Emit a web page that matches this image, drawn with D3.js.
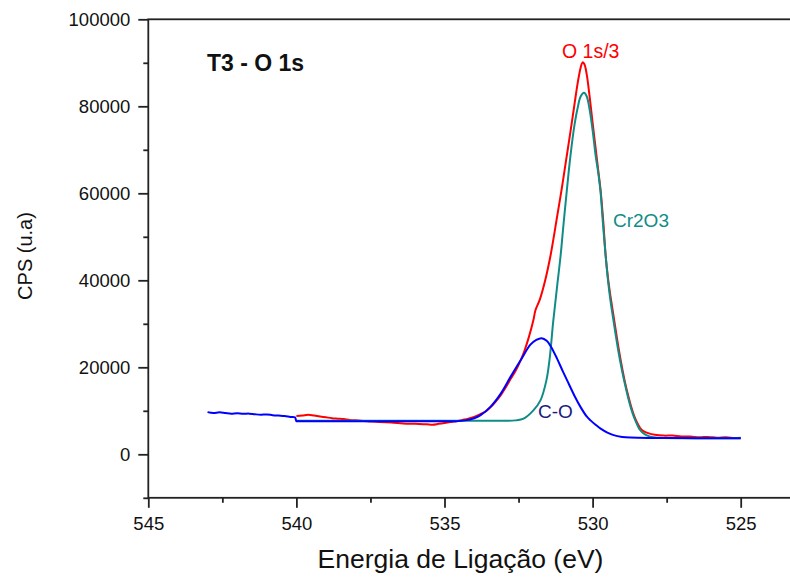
<!DOCTYPE html>
<html>
<head>
<meta charset="utf-8">
<script src="https://cdn.jsdelivr.net/npm/d3@7"></script>
<style>
  body { margin: 0; background: #fff; }
  svg { display: block; font-family: "Liberation Sans", Arial, sans-serif; }
  .axis path, .axis line { stroke: #222; stroke-width: 1.8; }
  .axis text { fill: #111; font-size: 18.5px; font-family: "Liberation Sans", Arial, sans-serif; }
</style>
</head>
<body>
<script>
// O 1s envelope (measured / 3), C-O component, Cr2O3 component : [binding energy eV, CPS]
var envelopeO1s = [
  [540.0, 8800], [539.8, 8900], [539.6, 9100], [539.4, 8900], [539.2, 8700], [539.0, 8500],
  [538.8, 8300], [538.6, 8200], [538.4, 8100], [538.2, 7900], [538.0, 7800], [537.6, 7600],
  [537.2, 7400], [536.8, 7300], [536.4, 7100], [536.0, 7000], [535.6, 6900], [535.4, 6800],
  [535.2, 7000], [535.0, 7200], [534.8, 7400], [534.6, 7600], [534.4, 7900], [534.2, 8200],
  [534.0, 8600], [533.8, 9200], [533.6, 9900], [533.45, 10800], [533.3, 11900], [533.1, 13600],
  [532.95, 15200], [532.77, 17300], [532.6, 19200], [532.43, 21600], [532.3, 23800], [532.15, 27000],
  [532.0, 30800], [531.93, 33100], [531.78, 35600], [531.6, 40000], [531.42, 45700], [531.3, 50400],
  [531.2, 54600], [531.05, 60700], [530.9, 67400], [530.8, 71800], [530.69, 76800], [530.6, 81000],
  [530.5, 85500], [530.4, 89000], [530.34, 90100], [530.28, 89700], [530.2, 87400], [530.1, 82200],
  [530.01, 76800], [529.9, 70500], [529.8, 64700], [529.73, 60700], [529.64, 53500], [529.56, 45700],
  [529.48, 40500], [529.4, 36500], [529.27, 30800], [529.1, 23500], [528.92, 17000], [528.8, 13500],
  [528.7, 11000], [528.6, 8900], [528.5, 7300], [528.4, 6100], [528.3, 5400], [528.1, 4800],
  [527.9, 4500], [527.6, 4300], [527.3, 4300], [527.0, 4100], [526.7, 4100], [526.4, 3900],
  [526.1, 4000], [525.8, 3800], [525.5, 3900], [525.2, 3750], [525.0, 3800]
];

var compCr2O3 = [
  [540.0, 7700], [539.0, 7700], [538.0, 7700], [537.0, 7700], [536.0, 7700], [535.0, 7700],
  [534.0, 7700], [533.0, 7700], [532.6, 7800], [532.33, 8200], [532.0, 10100],
  [531.76, 12400], [531.56, 17000], [531.45, 22000], [531.33, 30500], [531.2, 38500], [531.08, 45700],
  [530.98, 53000], [530.88, 60000], [530.75, 68500], [530.61, 75800], [530.5, 79800], [530.4, 82300],
  [530.29, 83100], [530.2, 82300], [530.1, 79200], [530.0, 74500], [529.9, 68800], [529.8, 64300],
  [529.73, 60200], [529.65, 53000], [529.56, 45700], [529.48, 40000], [529.4, 35500], [529.29, 30500],
  [529.15, 24500], [529.0, 19000], [528.92, 16500], [528.8, 13000], [528.7, 10500], [528.6, 8500],
  [528.5, 6900], [528.41, 5700], [528.3, 4900], [528.15, 4300], [528.0, 4000], [527.7, 3800],
  [527.0, 3700], [526.0, 3700], [525.0, 3700]
];

var compCO = [
  [543.0, 9700], [542.8, 9500], [542.6, 9650], [542.4, 9500], [542.2, 9350], [542.0, 9450],
  [541.8, 9300], [541.6, 9350], [541.4, 9200], [541.2, 9100], [541.0, 9150], [540.8, 9000],
  [540.6, 8900], [540.4, 8800], [540.2, 8600], [540.05, 8500], [540.0, 7600], [539.95, 7600],
  [539.5, 7600], [539.0, 7600], [538.0, 7600], [537.0, 7600], [536.0, 7600], [535.0, 7600],
  [534.6, 7600], [534.3, 7800], [534.0, 8300], [533.78, 9000], [533.45, 10900], [533.1, 13950],
  [532.77, 17800], [532.43, 21600], [532.1, 25200], [531.9, 26300], [531.72, 26700], [531.55, 26100],
  [531.42, 24900], [531.2, 22000], [531.0, 19000], [530.86, 17000], [530.6, 13300], [530.41, 10900],
  [530.2, 8700], [530.07, 7800], [529.9, 6800], [529.73, 5900], [529.5, 5000], [529.29, 4400],
  [529.0, 4000], [528.72, 3850], [528.0, 3750], [527.0, 3720], [526.0, 3700], [525.0, 3700]
];

var xMajorTicks = [545, 540, 535, 530, 525];
var xMinorTicks = [542.5, 537.5, 532.5, 527.5];
var yMajorTicks = [0, 20000, 40000, 60000, 80000, 100000];
var yMinorTicks = [-10000, 10000, 30000, 50000, 70000, 90000];

var width = 790, height = 577;

var svg = d3.select("body").append("svg")
    .attr("width", width)
    .attr("height", height);

var x = d3.scaleLinear().domain([545, 520]).range([148.3, 888.8]);
var y = d3.scaleLinear().domain([-10000, 100000]).range([497.8, 19.3]);

// frame (right side falls outside the picture)
svg.append("rect")
   .attr("x", x(545)).attr("y", y(100000))
   .attr("width", x(520) - x(545)).attr("height", y(-10000) - y(100000))
   .attr("fill", "none").attr("stroke", "#222").attr("stroke-width", 1.8);

var line = d3.line()
    .x(function(d) { return x(d[0]); })
    .y(function(d) { return y(d[1]); })
    .curve(d3.curveCatmullRom.alpha(0.5));

svg.append("path").datum(envelopeO1s)
   .attr("fill", "none").attr("stroke", "#ff0000").attr("stroke-width", 2)
   .attr("d", line);
svg.append("path").datum(compCr2O3)
   .attr("fill", "none").attr("stroke", "#108c86").attr("stroke-width", 2)
   .attr("d", line);
svg.append("path").datum(compCO)
   .attr("fill", "none").attr("stroke", "#0000ff").attr("stroke-width", 2)
   .attr("d", line);

// axes
svg.append("g").attr("class", "axis")
   .attr("transform", "translate(0," + y(-10000) + ")")
   .call(d3.axisBottom(x).tickValues(xMajorTicks).tickSize(10).tickPadding(9)
         .tickFormat(d3.format("d")))
   .select(".domain").remove();
svg.append("g").attr("class", "axis")
   .attr("transform", "translate(0," + y(-10000) + ")")
   .call(d3.axisBottom(x).tickValues(xMinorTicks).tickSize(5).tickFormat(""))
   .select(".domain").remove();

svg.append("g").attr("class", "axis")
   .attr("transform", "translate(" + x(545) + ",0)")
   .call(d3.axisLeft(y).tickValues(yMajorTicks).tickSize(10).tickPadding(8)
         .tickFormat(d3.format("d")))
   .select(".domain").remove();
svg.append("g").attr("class", "axis")
   .attr("transform", "translate(" + x(545) + ",0)")
   .call(d3.axisLeft(y).tickValues(yMinorTicks).tickSize(5).tickFormat(""))
   .select(".domain").remove();

// titles
svg.append("text")
   .attr("x", 460.5).attr("y", 568)
   .attr("text-anchor", "middle")
   .attr("font-size", "26.5px").attr("fill", "#111")
   .text("Energia de Ligação (eV)");

svg.append("text")
   .attr("transform", "translate(31.5,256) rotate(-90)")
   .attr("text-anchor", "middle")
   .attr("font-size", "20px").attr("fill", "#111")
   .text("CPS (u.a)");

svg.append("text")
   .attr("x", 207).attr("y", 71)
   .attr("font-size", "23px").attr("font-weight", "bold").attr("fill", "#111")
   .text("T3 - O 1s");

// curve labels
svg.append("text")
   .attr("x", 562).attr("y", 58)
   .attr("font-size", "19.5px").attr("fill", "#ff0000")
   .text("O 1s/3");
svg.append("text")
   .attr("x", 613).attr("y", 226.7)
   .attr("font-size", "19px").attr("fill", "#108c86")
   .text("Cr2O3");
svg.append("text")
   .attr("x", 538).attr("y", 418.3)
   .attr("font-size", "19px").attr("fill", "#1a1a80")
   .text("C-O");
</script>
</body>
</html>
